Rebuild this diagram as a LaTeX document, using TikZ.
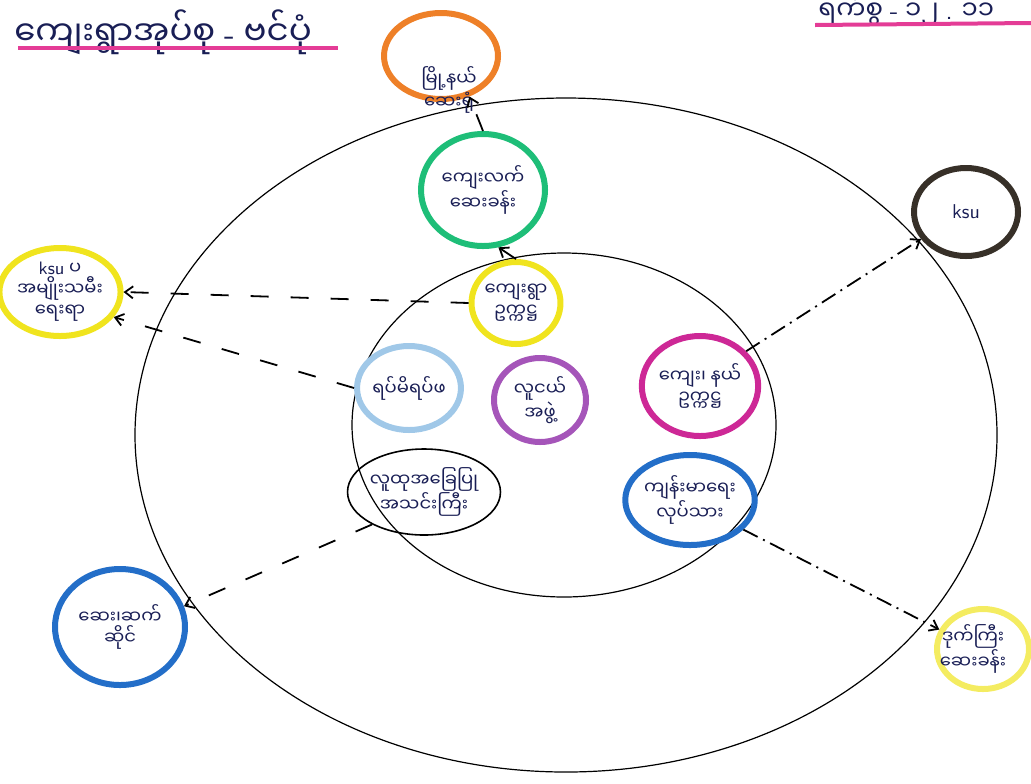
\documentclass[tikz,border=0pt]{standalone}
\usepackage{fontspec}
\newfontfamily\mmfont[Script=Myanmar]{Noto Sans Myanmar UI}
\usetikzlibrary{shapes.geometric,arrows.meta}
\definecolor{ink}{RGB}{25,30,85}
\definecolor{cOrange}{RGB}{238,128,40}
\definecolor{cGreen}{RGB}{30,190,120}
\definecolor{cYellow}{RGB}{240,228,30}
\definecolor{cPale}{RGB}{160,200,232}
\definecolor{cPurple}{RGB}{165,85,185}
\definecolor{cMagenta}{RGB}{205,40,150}
\definecolor{cBlue}{RGB}{35,110,200}
\definecolor{cDark}{RGB}{55,48,40}
\definecolor{cPink}{RGB}{228,60,150}
\newlength{\ringw}
\setlength{\ringw}{3pt}

\begin{document}
\begin{tikzpicture}[x=0.5pt, y=-0.5pt,
mmtext/.style={font=\mmfont\fontsize{9}{10.5}\selectfont, text=ink, align=center, inner sep=0pt}, % my basic handwritten text
ring/.style={ellipse, draw, line width=\ringw, mmtext}, % coloured rings
thinring/.style={ellipse, draw, line width=0.8pt, mmtext}, % rings drawn in pen
zone/.style={ellipse, draw, line width=0.6pt, inner sep=0pt}, % outer and inner zones
link/.style={line width=0.9pt, dash pattern=on 9pt off 11pt, -{Straight Barb[length=4pt,width=6pt]}}, % dashed links
dlink/.style={link, dash pattern=on 8pt off 3pt on 1pt off 3pt}, % dash dot links
uline/.style={cPink, line width=2pt} % pink underlines
]
\useasboundingbox (0,0) rectangle (1031,783);

\node[zone, minimum width=431pt, minimum height=337pt] (outer) at (566,435) {};
\node[zone, minimum width=212pt, minimum height=172pt] (inner) at (564,425) {};

% inside the village
\node[ring, draw=cYellow, minimum width=44pt, minimum height=41pt] (chair) at (516,303) {ကျေးရွာ\\ဥက္ကဋ္ဌ};
\node[ring, draw=cPale, minimum width=48pt, minimum height=42pt] (elders) at (409,388) {ရပ်မိရပ်ဖ};
\node[ring, draw=cPurple, minimum width=46pt, minimum height=42pt] (youth) at (540,400) {လူငယ်\\အဖွဲ့};
\node[ring, draw=cMagenta, minimum width=56pt, minimum height=50pt] (head) at (700,386) {ကျေး၊ နယ်\\ဥက္ကဋ္ဌ};
\node[thinring, minimum width=51pt, minimum height=43pt] (group) at (424,492) {လူထုအခြေပြု\\အသင်းကြီး};
\node[ring, draw=cBlue, minimum width=47pt, minimum height=45pt] (worker) at (690,500) {ကျန်းမာရေး\\လုပ်သား};

% outside
\node[ring, draw=cGreen, minimum width=62pt, minimum height=56pt] (clinic) at (483,190) {ကျေးလက်\\ဆေးခန်း};
\node[ring, draw=cOrange, minimum width=57pt, minimum height=43pt,
  label={[mmtext, xshift=4pt, yshift=-17pt]center:မြို့နယ်\\ဆေးရုံ}] (hosp) at (441,56) {};
\node[ring, draw=cYellow, minimum width=53pt, minimum height=44pt] (women) at (60,292) {{\sffamily ksu} ပ\\အမျိုးသမီး\\ရေးရာ};
\node[ring, draw=cDark, minimum width=52pt, minimum height=44pt, font=\sffamily\fontsize{10}{12}\selectfont] (ksu) at (966,212) {ksu};
\node[ring, draw=cBlue, minimum width=65pt, minimum height=58pt] (shop) at (120,627) {ဆေး၊ဆက်\\ဆိုင်};
\node[ring, draw=cYellow!70!white, minimum width=46pt, minimum height=40pt,
  label={[mmtext, xshift=-5pt]center:ဒုက်ကြီး\\ဆေးခန်း}] (private) at (983,649) {};

% links
\draw[link] (clinic.north) -- (hosp.-55);
\draw[link] (chair.north) -- (clinic.-75);
\draw[link] (chair.west) -- (women.east);
\draw[link] (elders.west) -- (women.-25);
\draw[link] (group.212) -- (shop.18);
\draw[dlink] (head.37) -- (ksu.211);
\draw[dlink] (worker.-29) -- (private.156);

% headings
\node[mmtext, font=\mmfont\fontsize{17}{20}\selectfont, anchor=west] (title) at (14,32) {ကျေးရွာအုပ်စု {\sffamily -} ဗင်ပုံ};
\draw[uline] (18,48) -- (338,48);
\node[mmtext, font=\mmfont\fontsize{13}{16}\selectfont, anchor=west] (date) at (818,9) {ရက်စွဲ {\sffamily -} ၁၂ {\sffamily .} ၁၁};
\draw[uline] (815,25) -- (1031,23);

\end{tikzpicture}
\end{document}
